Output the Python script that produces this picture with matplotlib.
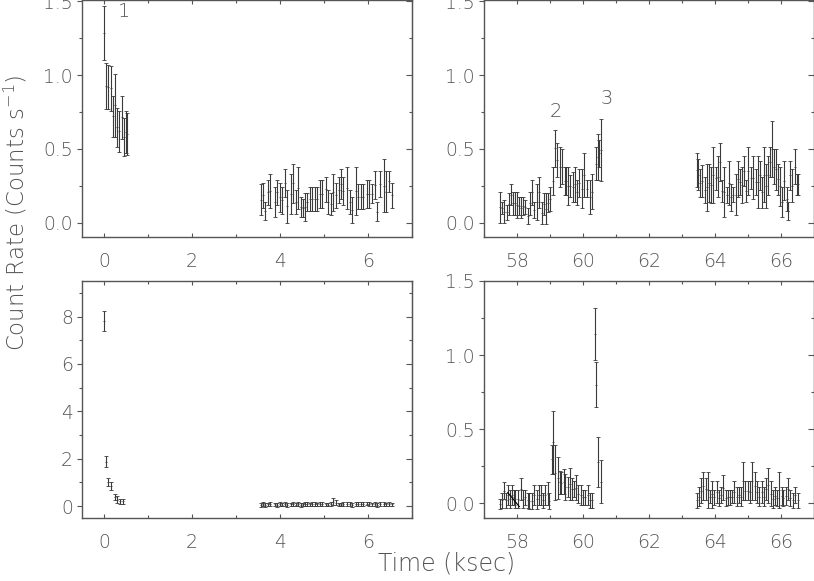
import numpy as np
import matplotlib
matplotlib.use("Agg")
import matplotlib.pyplot as plt
from matplotlib.ticker import MultipleLocator, FormatStrFormatter

# ---- data: bin time (ksec), lower / upper end of the error bar (counts/s) ----
# top-left, first segment
tl_t1 = [0.00, 0.05, 0.10, 0.15, 0.20, 0.24, 0.30, 0.34, 0.40, 0.45, 0.49, 0.53]
tl_lo1 = [1.10, 0.77, 0.77, 0.76, 0.58, 0.58, 0.51, 0.48, 0.57, 0.45, 0.47, 0.46]
tl_hi1 = [1.47, 1.08, 1.07, 1.06, 0.86, 1.01, 0.78, 0.76, 0.86, 0.71, 0.76, 0.74]

# shared bin times of the second segment (left panels)
seg2_t = [3.57, 3.62, 3.67, 3.73, 3.78, 3.89, 3.94, 4.00, 4.05, 4.11, 4.17, 4.24, 4.30,
          4.36, 4.42, 4.47, 4.52, 4.57, 4.62, 4.68, 4.73, 4.80, 4.85, 4.91, 4.96, 5.05,
          5.10, 5.16, 5.21, 5.27, 5.33, 5.38, 5.44, 5.52, 5.58, 5.63, 5.73, 5.78, 5.83,
          5.89, 5.97, 6.02, 6.08, 6.17, 6.21, 6.27, 6.37, 6.42, 6.48, 6.54]
tl_lo2 = [0.05, 0.10, 0.02, 0.12, 0.10, 0.04, 0.12, 0.07, 0.06, 0.17, 0.00, 0.06, 0.13,
          0.06, 0.09, 0.04, 0.04, 0.01, 0.08, 0.08, 0.08, 0.08, 0.08, 0.10, 0.10, 0.14,
          0.06, 0.05, 0.08, 0.10, 0.13, 0.16, 0.12, 0.09, 0.06, 0.00, 0.05, 0.09, 0.09,
          0.09, 0.10, 0.10, 0.13, 0.16, 0.01, 0.17, 0.07, 0.07, 0.21, 0.10]
tl_hi2 = [0.26, 0.27, 0.14, 0.29, 0.33, 0.24, 0.29, 0.27, 0.24, 0.36, 0.22, 0.33, 0.40,
          0.22, 0.38, 0.17, 0.16, 0.20, 0.20, 0.24, 0.24, 0.24, 0.24, 0.29, 0.29, 0.31,
          0.22, 0.20, 0.33, 0.27, 0.31, 0.36, 0.31, 0.38, 0.22, 0.17, 0.38, 0.26, 0.26,
          0.26, 0.29, 0.29, 0.26, 0.35, 0.14, 0.35, 0.43, 0.35, 0.35, 0.27]

# top-right
tr_t1 = [57.48, 57.55, 57.62, 57.69, 57.75, 57.82, 57.87, 57.94, 58.00, 58.07, 58.12,
         58.19, 58.25, 58.32, 58.40, 58.45, 58.53, 58.60, 58.68, 58.75, 58.81, 58.88,
         58.95, 59.01, 59.08, 59.16, 59.21, 59.29, 59.36, 59.44, 59.49, 59.56, 59.62,
         59.69, 59.76, 59.82, 59.89, 59.96, 60.04, 60.11, 60.20, 60.27, 60.38, 60.44,
         60.48, 60.56]
tr_lo1 = [0.00, 0.06, 0.00, 0.02, 0.05, 0.12, 0.05, 0.05, 0.03, 0.05, 0.03, 0.05, 0.06,
          -0.01, 0.05, 0.12, 0.03, 0.02, 0.10, -0.01, 0.05, -0.01, 0.07, 0.08, 0.19,
          0.38, 0.31, 0.24, 0.26, 0.19, 0.19, 0.12, 0.17, 0.14, 0.14, 0.12, 0.17, 0.10,
          0.17, 0.17, 0.06, 0.09, 0.29, 0.29, 0.38, 0.28]
tr_hi1 = [0.21, 0.14, 0.15, 0.12, 0.20, 0.26, 0.21, 0.21, 0.21, 0.17, 0.17, 0.17, 0.15,
          0.10, 0.21, 0.29, 0.14, 0.26, 0.31, 0.14, 0.20, 0.20, 0.20, 0.24, 0.38, 0.63,
          0.54, 0.51, 0.50, 0.38, 0.38, 0.38, 0.32, 0.34, 0.38, 0.29, 0.36, 0.36, 0.47,
          0.29, 0.29, 0.33, 0.51, 0.60, 0.56, 0.70]

tr_t2 = [63.44, 63.49, 63.56, 63.62, 63.70, 63.75, 63.82, 63.88, 63.95, 64.02, 64.08,
         64.15, 64.22, 64.28, 64.35, 64.42, 64.48, 64.55, 64.63, 64.69, 64.76, 64.81,
         64.88, 64.94, 65.01, 65.08, 65.16, 65.23, 65.31, 65.36, 65.41, 65.48, 65.55,
         65.62, 65.67, 65.72, 65.79, 65.85, 65.92, 65.97, 66.04, 66.10, 66.17, 66.22,
         66.27, 66.34, 66.41, 66.48, 66.53]
tr_lo2 = [0.24, 0.22, 0.17, 0.17, 0.13, 0.08, 0.14, 0.13, 0.13, 0.22, 0.17, 0.28, 0.14,
          0.04, 0.13, 0.12, 0.08, 0.14, 0.05, 0.17, 0.19, 0.13, 0.25, 0.14, 0.19, 0.23,
          0.16, 0.19, 0.10, 0.22, 0.10, 0.14, 0.10, 0.19, 0.31, 0.31, 0.26, 0.22, 0.19,
          0.11, 0.04, 0.15, 0.08, 0.02, 0.22, 0.14, 0.26, 0.19, 0.19]
tr_hi2 = [0.47, 0.43, 0.36, 0.39, 0.31, 0.40, 0.40, 0.38, 0.51, 0.38, 0.45, 0.54, 0.29,
          0.38, 0.24, 0.42, 0.26, 0.24, 0.33, 0.42, 0.36, 0.38, 0.45, 0.29, 0.51, 0.38,
          0.45, 0.36, 0.45, 0.42, 0.31, 0.51, 0.40, 0.45, 0.51, 0.69, 0.50, 0.50, 0.40,
          0.38, 0.24, 0.42, 0.24, 0.14, 0.42, 0.36, 0.50, 0.33, 0.33]

# bottom-left
bl_t1 = [0.00, 0.05, 0.09, 0.17, 0.24, 0.30, 0.37, 0.44]
bl_lo1 = [7.41, 1.65, 0.85, 0.69, 0.27, 0.15, 0.08, 0.08]
bl_hi1 = [8.25, 2.11, 1.20, 1.02, 0.50, 0.41, 0.32, 0.32]

bl_lo2 = [-0.02, 0.00, -0.03, 0.00, -0.01, 0.00, -0.02, 0.00, -0.01, 0.01, -0.03, 0.00, 0.01,
          -0.01, 0.00, -0.02, 0.00, 0.01, 0.02, 0.00, 0.02, 0.01, 0.00, 0.02, 0.01, 0.00,
          -0.01, 0.00, 0.05, 0.03, 0.00, -0.01, 0.01, 0.00, 0.02, -0.02, 0.01, 0.02, 0.00,
          0.01, 0.03, 0.02, 0.00, 0.01, -0.02, 0.02, 0.01, 0.00, 0.02, 0.00]
bl_hi2 = [0.14, 0.16, 0.12, 0.15, 0.16, 0.14, 0.13, 0.16, 0.14, 0.17, 0.12, 0.15, 0.17,
          0.14, 0.16, 0.13, 0.15, 0.16, 0.18, 0.15, 0.18, 0.17, 0.15, 0.18, 0.17, 0.15,
          0.14, 0.16, 0.34, 0.24, 0.15, 0.14, 0.17, 0.16, 0.18, 0.13, 0.17, 0.18, 0.16,
          0.17, 0.19, 0.18, 0.15, 0.17, 0.13, 0.18, 0.17, 0.15, 0.18, 0.15]

# bottom-right
br_t1 = [57.48, 57.54, 57.60, 57.67, 57.72, 57.79, 57.84, 57.90, 57.95, 58.04, 58.12,
         58.19, 58.25, 58.32, 58.37, 58.45, 58.53, 58.60, 58.66, 58.73, 58.80, 58.85,
         58.93, 58.98, 59.05, 59.10, 59.16, 59.23, 59.29, 59.34, 59.41, 59.46, 59.54,
         59.61, 59.67, 59.74, 59.79, 59.86, 59.94, 60.01, 60.07, 60.14, 60.22, 60.28,
         60.35, 60.40, 60.45, 60.55]
br_lo1 = [-0.04, -0.03, 0.03, -0.03, -0.01, -0.03, -0.01, -0.01, -0.03, -0.03, 0.02,
          -0.03, -0.01, -0.03, -0.04, -0.04, -0.01, -0.04, -0.01, -0.01, -0.03, -0.01,
          -0.01, -0.04, 0.20, 0.20, 0.02, 0.03, 0.06, 0.06, 0.06, 0.02, 0.04, 0.02, 0.02,
          0.04, 0.02, 0.00, -0.01, -0.01, -0.01, -0.01, -0.03, -0.03, 0.97, 0.65, 0.11,
          0.00]
br_hi1 = [0.03, 0.07, 0.14, 0.07, 0.12, 0.09, 0.12, 0.09, 0.09, 0.09, 0.17, 0.09, 0.09,
          0.07, 0.07, 0.07, 0.12, 0.09, 0.12, 0.12, 0.07, 0.12, 0.14, 0.07, 0.39, 0.62,
          0.39, 0.31, 0.22, 0.21, 0.23, 0.20, 0.18, 0.24, 0.17, 0.15, 0.19, 0.12, 0.12,
          0.09, 0.09, 0.12, 0.07, 0.07, 1.32, 0.95, 0.45, 0.29]

br_t2 = [63.46, 63.52, 63.59, 63.64, 63.72, 63.78, 63.85, 63.92, 63.98, 64.05, 64.12,
         64.18, 64.25, 64.32, 64.38, 64.45, 64.50, 64.59, 64.66, 64.73, 64.79, 64.86,
         64.91, 64.99, 65.06, 65.13, 65.21, 65.28, 65.34, 65.41, 65.48, 65.55, 65.62,
         65.69, 65.75, 65.82, 65.87, 65.94, 66.02, 66.07, 66.14, 66.20, 66.27, 66.35,
         66.43, 66.50]
br_lo2 = [-0.03, -0.02, 0.00, 0.02, 0.02, -0.03, 0.00, -0.03, -0.01, 0.00, -0.02, 0.00,
          0.02, -0.02, -0.01, -0.01, 0.00, 0.00, -0.02, 0.00, -0.02, 0.02, 0.02, 0.02,
          0.00, 0.02, 0.02, 0.00, -0.02, 0.00, -0.02, 0.02, 0.00, -0.02, -0.03, -0.01,
          -0.02, -0.03, -0.01, -0.02, -0.01, 0.02, -0.02, -0.03, 0.00, -0.03]
br_hi2 = [0.07, 0.11, 0.17, 0.21, 0.17, 0.21, 0.09, 0.15, 0.09, 0.15, 0.09, 0.11, 0.19,
          0.09, 0.09, 0.09, 0.09, 0.15, 0.11, 0.11, 0.11, 0.28, 0.15, 0.15, 0.15, 0.28,
          0.21, 0.15, 0.11, 0.15, 0.11, 0.17, 0.24, 0.15, 0.09, 0.11, 0.09, 0.21, 0.11,
          0.09, 0.11, 0.17, 0.09, 0.07, 0.11, 0.07]

# stray connecting stroke in the bottom-right panel
br_line_t = [57.72, 58.07]
br_line_y = [0.072, -0.023]

flare_labels = ["1", "2", "3"]
flare_t = [0.45, 59.17, 60.71]
flare_y = [1.43, 0.75, 0.84]

# ---- style ----
plt.rcParams['font.family'] = ['DejaVu Sans']
plt.rcParams['mathtext.default'] = 'regular'
TXT = '#555555'
AXC = '#555555'
BAR = '#3a3a3a'

W, H = 814, 581
fig = plt.figure(figsize=(W / 100, H / 100), dpi=100)


def add_panel(left, bottom, right, top):
    return fig.add_axes([left / W, 1 - bottom / H, (right - left) / W, (bottom - top) / H])


def style(ax, xlim, ylim, xmaj, ymaj, yfmt):
    ax.set_xlim(*xlim)
    ax.set_ylim(*ylim)
    for s in ax.spines.values():
        s.set_color(AXC)
        s.set_linewidth(1.0)
    ax.xaxis.set_major_locator(MultipleLocator(xmaj))
    ax.xaxis.set_minor_locator(MultipleLocator(xmaj / 2))
    ax.xaxis.set_major_formatter(FormatStrFormatter('%d'))
    ax.yaxis.set_major_locator(MultipleLocator(ymaj))
    ax.yaxis.set_minor_locator(MultipleLocator(ymaj / 2))
    ax.yaxis.set_major_formatter(FormatStrFormatter(yfmt))
    ax.tick_params(axis='x', which='both', direction='in', top=True, bottom=True,
                   color=AXC, labelcolor=TXT, labelsize=13.5, pad=10.5)
    ax.tick_params(axis='x', which='major', length=3.0, width=0.8)
    ax.tick_params(axis='x', which='minor', length=2.0, width=0.8)
    ax.tick_params(axis='y', which='both', direction='out', left=True, right=False,
                   color=AXC, labelcolor=TXT, labelsize=13.5, pad=3)
    ax.tick_params(axis='y', which='major', length=3.6, width=0.8)
    ax.tick_params(axis='y', which='minor', length=2.2, width=0.8)
    for lab in ax.get_xticklabels() + ax.get_yticklabels():
        lab.set_fontweight('light')
    # inward ticks on the right side
    sec = ax.secondary_yaxis('right')
    sec.yaxis.set_major_locator(MultipleLocator(ymaj))
    sec.yaxis.set_minor_locator(MultipleLocator(ymaj / 2))
    sec.spines['right'].set_color(AXC)
    sec.tick_params(axis='y', which='both', direction='in', labelright=False, color=AXC)
    sec.tick_params(axis='y', which='major', length=4.3, width=0.8)
    sec.tick_params(axis='y', which='minor', length=2.2, width=0.8)


def draw_bars(ax, t, lo, hi):
    lo = np.asarray(lo)
    hi = np.asarray(hi)
    mid = (lo + hi) / 2
    err = (hi - lo) / 2
    ax.errorbar(t, mid, yerr=err, fmt='_', ms=1.8, mew=0.6, color=BAR, ecolor=BAR,
                elinewidth=0.8, capsize=1.3, capthick=0.8)


ax_tl = add_panel(82, 237.3, 412, -0.5)
ax_tr = add_panel(484, 237.3, 814, -0.5)
ax_bl = add_panel(82, 518, 412, 281)
ax_br = add_panel(484, 518, 814, 281)

style(ax_tl, (-0.5, 7.0), (-0.1, 1.513), 2, 0.5, '%.1f')
style(ax_tr, (57.0, 67.0), (-0.1, 1.513), 2, 0.5, '%.1f')
style(ax_bl, (-0.5, 7.0), (-0.5, 9.5), 2, 2, '%d')
style(ax_br, (57.0, 67.0), (-0.1, 1.5), 2, 0.5, '%.1f')

draw_bars(ax_tl, tl_t1, tl_lo1, tl_hi1)
draw_bars(ax_tl, seg2_t, tl_lo2, tl_hi2)
draw_bars(ax_tr, tr_t1, tr_lo1, tr_hi1)
draw_bars(ax_tr, tr_t2, tr_lo2, tr_hi2)
draw_bars(ax_bl, bl_t1, bl_lo1, bl_hi1)
draw_bars(ax_bl, seg2_t, bl_lo2, bl_hi2)
draw_bars(ax_br, br_t1, br_lo1, br_hi1)
draw_bars(ax_br, br_t2, br_lo2, br_hi2)
ax_br.plot(br_line_t, br_line_y, color='black', lw=0.8)

for lab, t, y in zip(flare_labels, flare_t, flare_y):
    ax = ax_tl if t < 10 else ax_tr
    ax.text(t, y, lab, color=TXT, fontsize=14, fontweight='light', ha='center', va='center')

fig.text(447 / W, 1 - 563 / H, 'Time (ksec)', ha='center', va='center',
         fontsize=17, color=TXT, fontweight='light')
fig.text(16 / W, 1 - 213 / H, r'Count Rate (Counts s$^{-1}$)', ha='center', va='center',
         rotation=90, fontsize=16.5, color=TXT, fontweight='light')

fig.savefig('out.png', dpi=100)
